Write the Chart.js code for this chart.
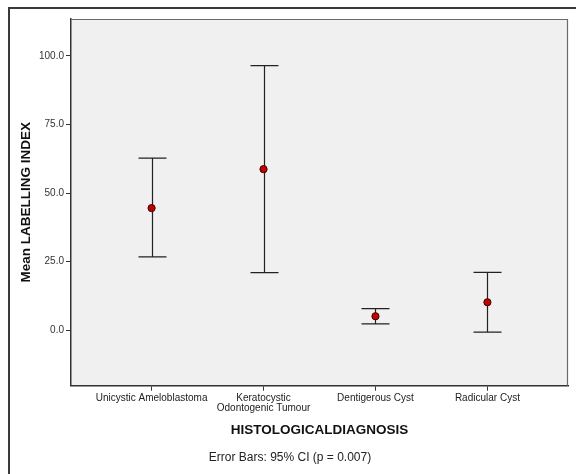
<!DOCTYPE html>
<html>
<head>
<meta charset="utf-8">
<script src="https://cdn.jsdelivr.net/npm/chart.js@4/dist/chart.umd.min.js"></script>
<style>
  html, body { margin: 0; padding: 0; background: #ffffff; }
  #wrap { position: relative; width: 576px; height: 474px; overflow: hidden; }
  #frame { position: absolute; left: 8px; top: 7px; width: 600px; height: 500px;
           border-left: 2px solid #3a3a3a; border-top: 2px solid #3a3a3a; }
  canvas { position: absolute; left: 0; top: 0; }
</style>
</head>
<body>
<div id="wrap">
  <div id="frame"></div>
  <canvas id="c" width="576" height="474"></canvas>
</div>
<script>
// ---- data ----
const categories = ['Unicystic Ameloblastoma', 'Keratocystic Odontogenic Tumour', 'Dentigerous Cyst', 'Radicular Cyst'];
const tickLabels = [['Unicystic Ameloblastoma'], ['Keratocystic', 'Odontogenic Tumour'], ['Dentigerous Cyst'], ['Radicular Cyst']];
const means = [44.5, 58.7, 5.1, 10.2];
const lowerCI = [26.7, 21.0, 2.3, -0.7];
const upperCI = [62.7, 96.4, 7.9, 21.1];
const yTicks = [0, 25, 50, 75, 100];
const yTitle = 'Mean LABELLING INDEX';
const xTitle = 'HISTOLOGICALDIAGNOSIS';
const footnote = 'Error Bars: 95% CI (p = 0.007)';

const FONT = '"Liberation Sans", Arial, Helvetica, sans-serif';

const plotBg = {
  id: 'plotBg',
  beforeDraw(chart) {
    const {ctx, chartArea: a} = chart;
    ctx.save();
    ctx.fillStyle = '#f0f0f0';
    ctx.fillRect(a.left, a.top, a.right - a.left, a.bottom - a.top);
    ctx.restore();
  },
  afterDraw(chart) {
    const {ctx, chartArea: a} = chart;
    ctx.save();
    ctx.strokeStyle = '#6a6a6a';
    ctx.lineWidth = 1.2;
    ctx.beginPath();
    ctx.moveTo(a.left, a.top + 0.5);
    ctx.lineTo(a.right - 0.5, a.top + 0.5);
    ctx.lineTo(a.right - 0.5, a.bottom);
    ctx.stroke();
    ctx.restore();
  }
};

const errorBars = {
  id: 'errorBars',
  beforeDatasetsDraw(chart) {
    const {ctx} = chart;
    const xs = chart.scales.x, ys = chart.scales.y;
    ctx.save();
    ctx.strokeStyle = '#222222';
    ctx.lineWidth = 1.2;
    for (let i = 0; i < categories.length; i++) {
      const px = Math.round(xs.getPixelForValue(i)) + 0.5;
      const yl = ys.getPixelForValue(lowerCI[i]);
      const yu = ys.getPixelForValue(upperCI[i]);
      const cap = 14;
      ctx.beginPath();
      ctx.moveTo(px, yu); ctx.lineTo(px, yl);
      ctx.moveTo(px - cap, yu); ctx.lineTo(px + cap, yu);
      ctx.moveTo(px - cap, yl); ctx.lineTo(px + cap, yl);
      ctx.stroke();
    }
    ctx.restore();
  }
};

const footnotePlugin = {
  id: 'footnote',
  afterDraw(chart, args, opts) {
    const {ctx} = chart;
    ctx.save();
    ctx.font = '12px ' + FONT;
    ctx.fillStyle = '#222222';
    ctx.textAlign = 'center';
    ctx.textBaseline = 'middle';
    ctx.fillText(opts.text, 290, 458);
    ctx.restore();
  }
};

new Chart(document.getElementById('c'), {
  type: 'scatter',
  data: {
    datasets: [{
      label: 'Mean',
      data: means.map((m, i) => ({x: i, y: m})),
      pointRadius: 3.6,
      pointBackgroundColor: '#c40000',
      pointBorderColor: '#3a0000',
      pointBorderWidth: 1,
      showLine: false
    }]
  },
  options: {
    responsive: false,
    animation: false,
    devicePixelRatio: 1,
    layout: { padding: { left: 0, right: 8, top: 19, bottom: 0 } },
    plugins: {
      legend: { display: false },
      tooltip: { enabled: false },
      footnote: { text: footnote }
    },
    scales: {
      x: {
        type: 'linear',
        min: -0.72,
        max: 3.72,
        afterBuildTicks(scale) {
          scale.ticks = categories.map((c, i) => ({value: i}));
        },
        afterFit(scale) { scale.height = 88.3; },
        ticks: {
          autoSkip: false,
          maxRotation: 0,
          minRotation: 0,
          padding: 3,
          color: '#222222',
          font: { family: FONT, size: 10, lineHeight: 0.95 },
          callback: (v) => tickLabels[v]
        },
        grid: { drawOnChartArea: false, drawTicks: true, tickLength: 5, color: '#333333' },
        border: { color: '#333333', width: 1.5 },
        title: {
          display: true,
          text: xTitle,
          color: '#111111',
          font: { family: FONT, size: 13.5, weight: 'bold' },
          padding: { top: 0, bottom: 35.9 }
        }
      },
      y: {
        type: 'linear',
        min: -20.2,
        max: 113.4,
        afterBuildTicks(scale) {
          scale.ticks = yTicks.map(v => ({value: v}));
        },
        afterFit(scale) { scale.width = 71; },
        ticks: {
          padding: 2,
          color: '#333333',
          font: { family: FONT, size: 10 },
          callback: (v) => Number(v).toFixed(1)
        },
        grid: { drawOnChartArea: false, drawTicks: true, tickLength: 5, color: '#333333' },
        border: { color: '#333333', width: 1.5 },
        title: {
          display: true,
          text: yTitle,
          color: '#111111',
          font: { family: FONT, size: 13.5, weight: 'bold' },
          padding: { top: 18, bottom: 0 }
        }
      }
    }
  },
  plugins: [plotBg, errorBars, footnotePlugin]
});
</script>
</body>
</html>
